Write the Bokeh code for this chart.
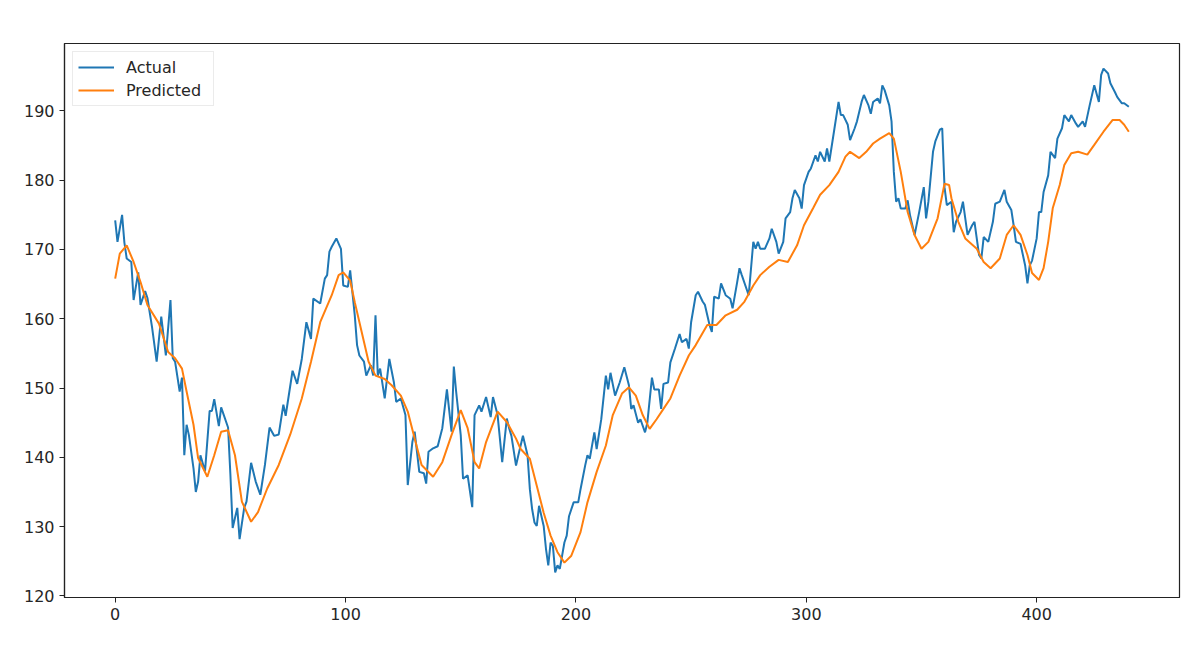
from bokeh.plotting import figure
from bokeh.models import Range1d, FixedTicker, Legend, LegendItem
from bokeh.embed import file_html
from bokeh.resources import INLINE

# ---- data ----
actual_x = [0, 1, 3, 4, 5, 7, 8, 10, 11, 13, 14, 16, 18, 20, 22, 24, 25, 26, 28, 29,
            30, 31, 32, 34, 35, 36, 37, 39, 41, 42, 43, 45, 46, 49, 50, 51, 53, 54, 56, 57,
            59, 61, 63, 65, 67, 69, 71, 73, 74, 77, 79, 81, 83, 85, 86, 89, 91, 92, 93, 94,
            96, 98, 99, 101, 102, 104, 105, 106, 108, 109, 111, 112, 113, 114, 115, 117, 119, 121, 122, 124,
            126, 127, 129, 130, 132, 134, 135, 136, 138, 140, 142, 144, 146, 147, 148, 150, 151, 153, 155, 156,
            158, 159, 161, 163, 164, 166, 168, 170, 171, 172, 174, 175, 177, 179, 180, 181, 182, 183, 184, 186,
            187, 188, 189, 190, 191, 192, 193, 195, 196, 197, 199, 201, 202, 204, 205, 206, 208, 209, 211, 213,
            214, 215, 217, 219, 221, 223, 224, 225, 227, 228, 230, 231, 233, 234, 236, 237, 238, 240, 241, 243,
            245, 246, 248, 249, 250, 252, 253, 255, 256, 258, 259, 260, 262, 263, 265, 267, 268, 270, 271, 272,
            275, 277, 278, 279, 280, 282, 284, 285, 287, 288, 290, 291, 293, 294, 295, 297, 298, 299, 301, 302,
            304, 305, 306, 308, 309, 310, 312, 314, 315, 316, 318, 319, 321, 322, 324, 325, 327, 328, 329, 331,
            332, 333, 334, 336, 337, 338, 339, 340, 341, 343, 344, 345, 347, 349, 351, 352, 353, 355, 356, 358,
            359, 360, 361, 363, 364, 365, 367, 368, 370, 372, 373, 375, 376, 377, 379, 381, 382, 384, 386, 387,
            389, 390, 391, 393, 395, 396, 397, 398, 400, 401, 402, 403, 405, 406, 408, 409, 411, 412, 414, 415,
            417, 418, 420, 421, 423, 425, 427, 428, 429, 431, 432, 434, 435, 437, 438, 440]
actual_y = [174.2, 171.1, 175.0, 171.0, 168.7, 168.2, 162.7, 166.7, 162.0, 164.0, 163.0, 158.8, 153.8, 160.3, 154.7, 162.7, 154.3, 153.8, 149.5, 151.5,
            140.3, 144.7, 143.2, 138.4, 135.0, 136.5, 140.3, 138.0, 146.7, 146.7, 148.4, 144.5, 147.2, 144.3, 137.6, 129.8, 132.7, 128.2, 132.7, 133.6,
            139.2, 136.5, 134.6, 138.9, 144.3, 143.1, 143.3, 147.6, 146.0, 152.5, 150.6, 154.2, 159.5, 157.1, 162.9, 162.2, 165.8, 166.3, 169.7, 170.4,
            171.6, 170.1, 164.8, 164.6, 167.0, 160.5, 156.2, 154.7, 153.8, 151.8, 153.3, 151.8, 160.5, 151.8, 152.8, 148.5, 154.2, 150.8, 148.0, 148.5,
            146.1, 136.0, 142.2, 143.7, 137.9, 137.7, 136.2, 140.8, 141.3, 141.6, 144.2, 149.8, 143.7, 153.1, 149.5, 143.2, 136.9, 137.4, 132.8, 146.1,
            147.5, 146.6, 148.7, 145.8, 148.7, 146.1, 139.3, 145.6, 144.2, 143.1, 138.8, 140.3, 143.1, 140.3, 135.4, 132.5, 130.6, 130.1, 133.0, 130.1,
            126.8, 124.4, 127.7, 127.2, 123.4, 124.4, 123.9, 127.7, 128.7, 131.5, 133.5, 133.5, 135.4, 138.8, 140.3, 139.8, 143.6, 141.2, 145.5, 151.8,
            149.8, 152.2, 148.9, 150.8, 153.0, 150.4, 147.0, 147.5, 145.0, 145.5, 143.6, 145.0, 151.5, 149.8, 149.8, 147.0, 150.6, 150.8, 153.7, 155.7,
            157.8, 156.6, 157.1, 155.7, 159.5, 163.4, 163.9, 162.5, 162.0, 159.1, 158.1, 163.2, 162.9, 165.1, 163.4, 162.9, 161.5, 165.3, 167.3, 166.3,
            163.4, 171.1, 170.1, 171.1, 170.1, 170.1, 171.6, 173.0, 171.1, 169.4, 171.1, 174.5, 175.4, 177.4, 178.6, 177.4, 175.9, 179.3, 181.2, 181.7,
            183.6, 182.7, 184.1, 182.7, 184.6, 182.7, 187.0, 191.3, 189.4, 189.4, 188.0, 185.8, 187.5, 188.5, 191.3, 192.3, 190.8, 189.6, 191.3, 191.8,
            191.1, 193.7, 193.0, 190.8, 188.5, 181.2, 176.9, 177.4, 175.9, 175.9, 177.1, 175.0, 172.1, 175.4, 179.0, 174.5, 176.9, 184.1, 185.6, 187.3,
            187.5, 179.0, 176.4, 176.9, 172.5, 174.0, 175.4, 176.9, 172.1, 173.5, 174.0, 169.2, 168.7, 171.8, 171.1, 174.0, 176.6, 176.9, 178.6, 176.9,
            175.7, 173.5, 171.1, 170.8, 167.7, 165.1, 167.7, 168.4, 171.6, 175.4, 175.4, 178.3, 180.7, 184.1, 183.2, 186.0, 187.5, 189.4, 188.5, 189.4,
            188.2, 187.7, 188.5, 187.7, 190.8, 193.7, 191.3, 195.2, 196.1, 195.4, 194.0, 192.7, 192.0, 191.1, 191.1, 190.6]

pred_x = [0, 2, 5, 8, 11, 14, 19, 23, 26, 29, 31, 34, 36, 40, 43, 46, 49, 52, 55, 59,
          62, 66, 71, 76, 81, 85, 89, 94, 97, 99, 102, 104, 107, 110, 113, 117, 120, 124, 127, 130,
          133, 138, 142, 146, 150, 153, 156, 158, 161, 166, 170, 174, 176, 180, 183, 186, 189, 192, 195, 198,
          202, 205, 209, 213, 216, 220, 223, 226, 229, 232, 235, 238, 241, 245, 249, 252, 257, 261, 265, 270,
          273, 277, 280, 284, 288, 292, 296, 299, 303, 306, 310, 314, 317, 319, 323, 326, 329, 332, 336, 338,
          341, 344, 347, 350, 353, 357, 360, 362, 363, 366, 369, 374, 377, 380, 384, 387, 390, 393, 396, 398,
          401, 403, 405, 407, 410, 412, 415, 418, 422, 425, 429, 433, 436, 438, 440]
pred_y = [165.8, 169.4, 170.6, 168.2, 165.3, 162.0, 159.3, 155.2, 154.3, 152.8, 149.5, 144.7, 139.9, 137.2, 140.3, 143.7, 143.9, 140.3, 133.6, 130.7,
          132.1, 135.5, 138.9, 143.3, 148.5, 153.8, 159.5, 163.4, 166.3, 166.7, 165.5, 162.4, 158.1, 153.8, 151.8, 151.3, 150.4, 148.9, 146.6, 142.7,
          138.9, 137.2, 139.3, 143.2, 146.8, 144.2, 139.3, 138.4, 142.2, 146.6, 145.1, 142.7, 141.2, 139.8, 135.9, 132.0, 128.7, 126.3, 124.8, 125.8,
          129.2, 133.5, 137.9, 141.7, 146.1, 149.2, 150.1, 148.9, 146.1, 144.1, 145.5, 147.0, 148.5, 151.8, 154.7, 156.2, 159.1, 159.1, 160.5, 161.3,
          162.4, 164.8, 166.3, 167.5, 168.5, 168.2, 170.6, 173.5, 176.0, 177.9, 179.3, 181.2, 183.4, 184.1, 183.2, 184.1, 185.3, 186.0, 186.8, 186.0,
          181.2, 175.4, 172.1, 170.1, 171.1, 174.5, 179.5, 179.3, 177.4, 174.0, 171.6, 170.1, 168.2, 167.3, 168.7, 172.1, 173.5, 172.1, 169.2, 166.6,
          165.6, 167.3, 171.1, 176.0, 179.3, 182.2, 183.9, 184.1, 183.7, 185.1, 187.0, 188.7, 188.7, 188.0, 187.0]

x_ticks = [0, 100, 200, 300, 400]
y_ticks = [120, 130, 140, 150, 160, 170, 180, 190]
series_names = ["Actual", "Predicted"]
series_colors = ["#1f77b4", "#ff7f0e"]

# ---- ranges with 5% margins, like matplotlib ----
all_x = actual_x + pred_x
all_y = actual_y + pred_y
xlo, xhi = min(all_x), max(all_x)
ylo, yhi = min(all_y), max(all_y)
xpad = 0.05 * (xhi - xlo)
ypad = 0.05 * (yhi - ylo)

p = figure(width=1185, height=637, output_backend="svg", toolbar_location=None,
           x_range=Range1d(xlo - xpad, xhi + xpad), y_range=Range1d(ylo - ypad, yhi + ypad),
           min_border_left=64, min_border_right=6, min_border_top=43, min_border_bottom=40)
p.xgrid.visible = False
p.ygrid.visible = False
p.background_fill_color = "white"
p.border_fill_color = "white"
p.outline_line_color = "#222222"
p.outline_line_width = 1.2

for ax in (p.xaxis[0], p.yaxis[0]):
    ax.axis_line_color = "#222222"
    ax.axis_line_width = 1.2
    ax.major_tick_line_color = "#222222"
    ax.major_tick_out = 5
    ax.major_tick_in = 0
    ax.minor_tick_out = 0
    ax.minor_tick_in = 0
    ax.major_label_text_font = "DejaVu Sans"
    ax.major_label_text_font_size = "16px"
    ax.major_label_text_color = "#262626"
    ax.major_label_standoff = 5
p.xaxis.ticker = FixedTicker(ticks=x_ticks)
p.yaxis.ticker = FixedTicker(ticks=y_ticks)

r1 = p.line(actual_x, actual_y, line_color=series_colors[0], line_width=2)
r2 = p.line(pred_x, pred_y, line_color=series_colors[1], line_width=2)

legend = Legend(items=[LegendItem(label=series_names[0], renderers=[r1]),
                       LegendItem(label=series_names[1], renderers=[r2])],
                location="top_left")
legend.margin = 8
legend.padding = 5
legend.spacing = 3
legend.glyph_width = 36
legend.glyph_height = 20
legend.label_standoff = 12
legend.label_width = 82
legend.label_text_font = "DejaVu Sans"
legend.label_text_font_size = "16px"
legend.label_text_color = "#262626"
legend.border_line_color = "#d8d8d8"
legend.border_line_width = 1
legend.background_fill_color = "white"
legend.background_fill_alpha = 0.8
p.add_layout(legend)

open("out.html", "w").write(file_html(p, INLINE))
